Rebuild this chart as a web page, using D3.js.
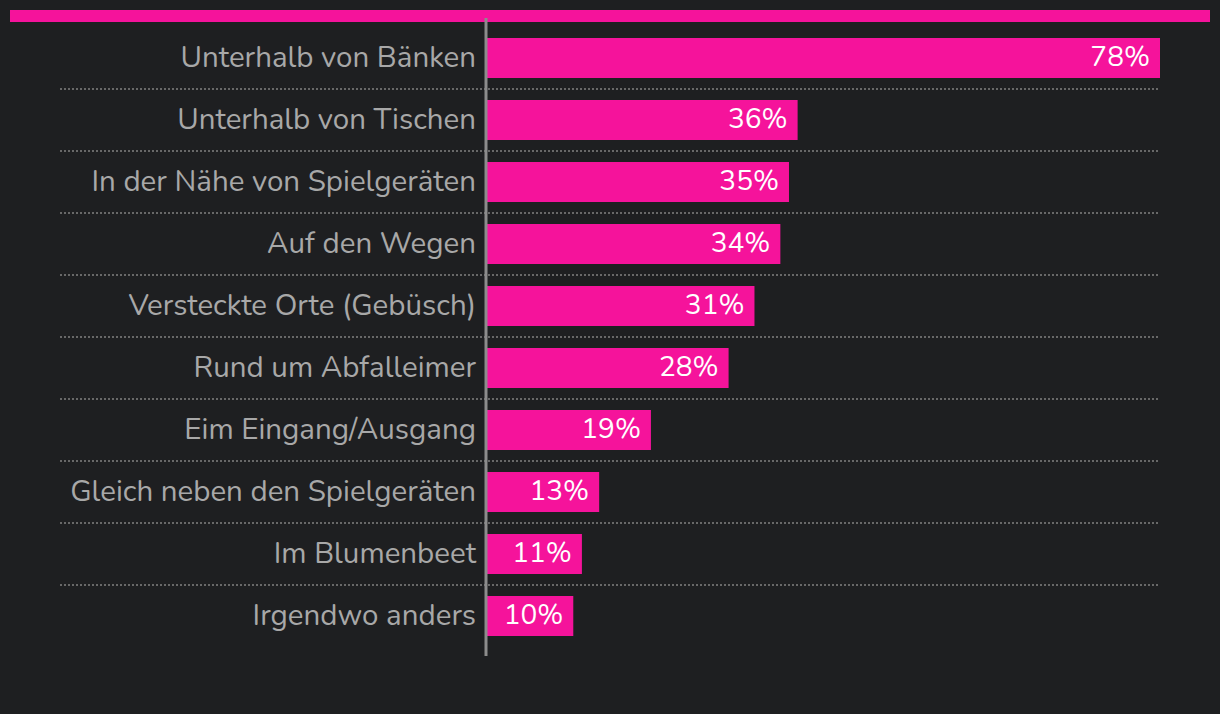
<!DOCTYPE html>
<html><head><meta charset="utf-8">
<script src="https://cdn.jsdelivr.net/npm/d3@7"></script>
<style>
html,body{margin:0;padding:0;background:#1e1f21;}
svg{display:block;}
</style></head>
<body>
<svg id="chart" width="1220" height="714"></svg>
<script>
const categories = ["Unterhalb von Bänken","Unterhalb von Tischen","In der Nähe von Spielgeräten","Auf den Wegen","Versteckte Orte (Gebüsch)","Rund um Abfalleimer","Eim Eingang/Ausgang","Gleich neben den Spielgeräten","Im Blumenbeet","Irgendwo anders"];
const values = [78,36,35,34,31,28,19,13,11,10];

const W = 1220, H = 714;
const pink = "#f5139b";
const font = "Nunito, Lato, 'Open Sans', sans-serif";
const svg = d3.select("#chart");
svg.append("rect").attr("width",W).attr("height",H).attr("fill","#1e1f21");

const x = d3.scaleLinear().domain([0,78]).range([487,1160]);
const y = d3.scaleBand().domain(categories).range([27,647]).paddingInner(22/62).paddingOuter(11/62);

// top accent bar
svg.append("rect").attr("x",10).attr("y",10).attr("width",1200).attr("height",12).attr("fill",pink);

// dotted separators
const seps = categories.slice(0,-1);
svg.selectAll("line.sep").data(seps).join("line")
  .attr("class","sep")
  .attr("x1",60).attr("x2",1160)
  .attr("y1",d=>y(d)+y.bandwidth()+y.step()*y.paddingInner()/2)
  .attr("y2",d=>y(d)+y.bandwidth()+y.step()*y.paddingInner()/2)
  .attr("stroke","#686868").attr("stroke-width",2).attr("stroke-dasharray","2,2");

// bars
svg.selectAll("rect.bar").data(values).join("rect")
  .attr("class","bar")
  .attr("x",x(0)).attr("y",(d,i)=>y(categories[i]))
  .attr("width",d=>x(d)-x(0)).attr("height",y.bandwidth())
  .attr("fill",pink);

// axis line
svg.append("line").attr("x1",486).attr("x2",486).attr("y1",18).attr("y2",656)
  .attr("stroke","#8c8c8c").attr("stroke-width",3);

// category labels
svg.selectAll("text.cat").data(categories).join("text")
  .attr("class","cat")
  .attr("x",476).attr("y",d=>y(d)+y.bandwidth()/2)
  .attr("dy","0.3em").attr("text-anchor","end")
  .attr("font-family",font).attr("font-size",29.5).attr("fill","#a8a8a8")
  .text(d=>d);

// value labels
svg.selectAll("text.val").data(values).join("text")
  .attr("class","val")
  .attr("x",d=>x(d)-10).attr("y",(d,i)=>y(categories[i])+y.bandwidth()/2)
  .attr("dy","0.28em").attr("text-anchor","end")
  .attr("font-family",font).attr("font-size",28).attr("fill","#ffffff")
  .text(d=>d+"%");
</script>
</body></html>
